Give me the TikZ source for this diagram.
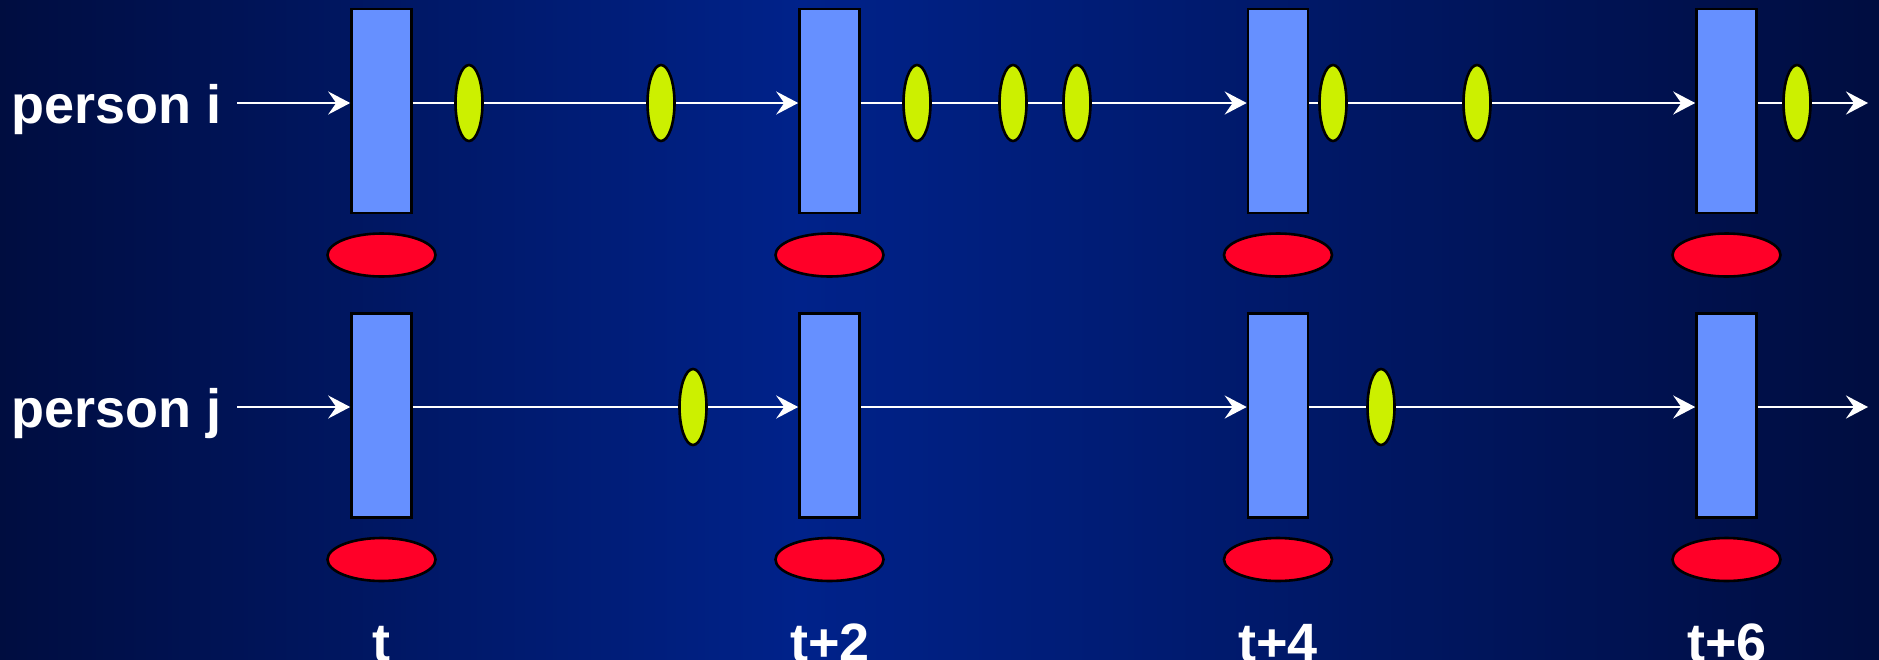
\documentclass[tikz,border=0pt]{standalone}
\usepackage{fontspec}
\setmainfont{Liberation Sans}
\usetikzlibrary{shapes.geometric,arrows.meta}
\definecolor{bgedge}{RGB}{0,13,64}
\definecolor{bgmid}{RGB}{0,34,138}
\definecolor{rectblue}{RGB}{102,144,255}
\definecolor{evgreen}{RGB}{204,240,0}
\definecolor{obsred}{RGB}{255,0,40}
\tikzset{
  frame/.style={draw=black, line width=1.3pt, fill=rectblue, minimum width=30pt, minimum height=102pt, inner sep=0pt},
  evt/.style={ellipse, draw=black, line width=1.3pt, fill=evgreen, minimum width=13.5pt, minimum height=38pt, inner sep=0pt},
  obs/.style={ellipse, draw=black, line width=1.3pt, fill=obsred, minimum width=54pt, minimum height=21.5pt, inner sep=0pt},
  flow/.style={draw=white, line width=1.2pt, -{Stealth[length=11pt,width=11.5pt,inset=4pt]}},
  lbl/.style={text=white, font=\fontsize{27}{32}\selectfont\bfseries, inner sep=0pt}
}
\begin{document}
\begin{tikzpicture}[x=0.5pt,y=-0.5pt]
\useasboundingbox (0,0) rectangle (1879,659);
\shade[left color=bgedge, right color=bgmid] (0,0) rectangle (800,659);
\shade[left color=bgmid, right color=bgedge] (799,0) rectangle (1879,659);
% labels
\node[lbl, anchor=base west] (pi) at (11,123) {person i};
\node[lbl, anchor=base west] (pj) at (11,427) {person j};
\node[lbl, anchor=base] (t0) at (381.5,661) {t};
\node[lbl, anchor=base] (t2) at (830,661) {t+2};
\node[lbl, anchor=base] (t4) at (1278,661) {t+4};
\node[lbl, anchor=base] (t6) at (1727,661) {t+6};
% frames
\node[frame] (a1) at (381.5,111) {};
\node[frame] (a2) at (829.5,111) {};
\node[frame] (a3) at (1278,111) {};
\node[frame] (a4) at (1726.5,111) {};
\node[frame] (b1) at (381.5,415.5) {};
\node[frame] (b2) at (829.5,415.5) {};
\node[frame] (b3) at (1278,415.5) {};
\node[frame] (b4) at (1726.5,415.5) {};
% red observations
\node[obs] (o1) at (381.5,255) {};
\node[obs] (o2) at (829.5,255) {};
\node[obs] (o3) at (1278,255) {};
\node[obs] (o4) at (1726.5,255) {};
\node[obs] (q1) at (381.5,559.5) {};
\node[obs] (q2) at (829.5,559.5) {};
\node[obs] (q3) at (1278,559.5) {};
\node[obs] (q4) at (1726.5,559.5) {};
% row coordinates
\coordinate (si) at (237,103);
\coordinate (ei) at (1868,103);
\coordinate (sj) at (237,407);
\coordinate (ej) at (1868,407);
% connectors row i
\draw[flow] (si) -- (a1.west |- si);
\draw[flow] (a1.east |- si) -- (a2.west |- si);
\draw[flow] (a2.east |- si) -- (a3.west |- si);
\draw[flow] (a3.east |- si) -- (a4.west |- si);
\draw[flow] (a4.east |- si) -- (ei);
% connectors row j
\draw[flow] (sj) -- (b1.west |- sj);
\draw[flow] (b1.east |- sj) -- (b2.west |- sj);
\draw[flow] (b2.east |- sj) -- (b3.west |- sj);
\draw[flow] (b3.east |- sj) -- (b4.west |- sj);
\draw[flow] (b4.east |- sj) -- (ej);
% green events
\node[evt] (e1) at (469,103) {};
\node[evt] (e2) at (661,103) {};
\node[evt] (e3) at (917,103) {};
\node[evt] (e4) at (1013,103) {};
\node[evt] (e5) at (1077,103) {};
\node[evt] (e6) at (1333,103) {};
\node[evt] (e7) at (1477,103) {};
\node[evt] (e8) at (1797,103) {};
\node[evt] (f1) at (693,407) {};
\node[evt] (f2) at (1381,407) {};
\end{tikzpicture}
\end{document}
